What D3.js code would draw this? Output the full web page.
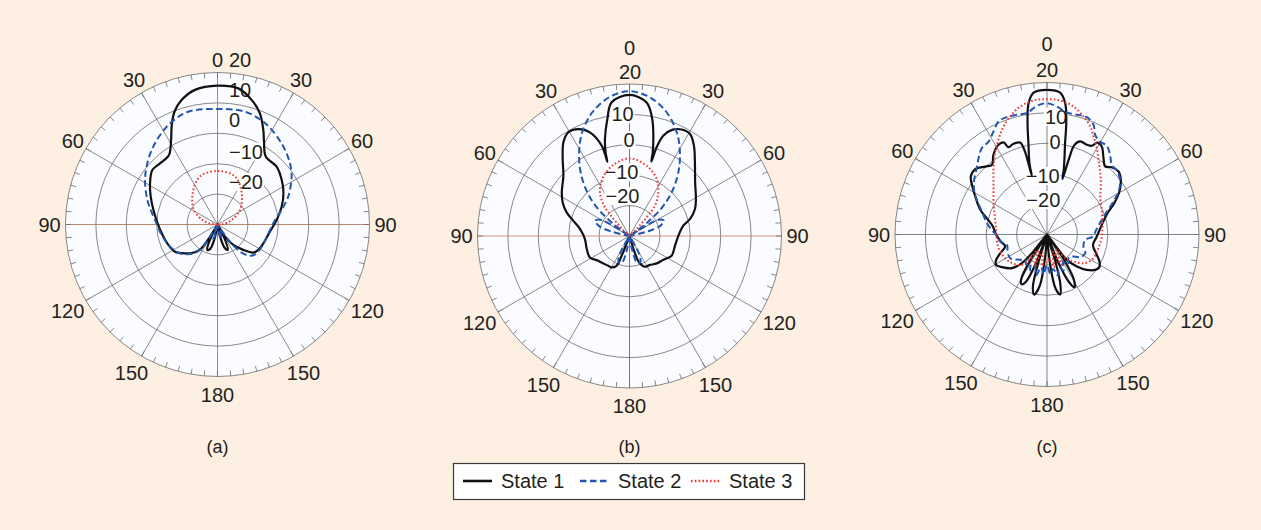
<!DOCTYPE html>
<html>
<head>
<meta charset="utf-8">
<script src="https://cdn.jsdelivr.net/npm/d3@7"></script>
<style>
  html, body { margin: 0; padding: 0; background: #fdefe2; }
  svg { display: block; }
  text { font-family: "Liberation Sans", Arial, Helvetica, sans-serif; fill: #231f20; }
</style>
</head>
<body>
<svg id="chart" width="1261" height="530"></svg>
<script>
// ---------------- Data ----------------
// Radiation patterns: [angle in degrees (clockwise from broadside, 0 = up), gain in dB]
const stateNames = ["State 1", "State 2", "State 3"];
const panelNames = ["(a)", "(b)", "(c)"];

const angleTickValues = [0, 30, 60, 90, 120, 150, 180, -150, -120, -90, -60, -30];
const angleTickLabels = ["0", "30", "60", "90", "120", "150", "180", "150", "120", "90", "60", "30"];
const radialLevels = [20, 10, 0, -10, -20];
const radialLabels = ["20", "10", "0", "\u221210", "\u221220"];

// Panel (a)
const a_state1 = [
  [-180,-40],[-173,-40],[-168,-25],[-163,-21.5],[-158,-21],[-154,-24],[-151,-40],
  [-149,-26],[-147,-22],[-145,-19.8],[-140,-18],[-131.6,-15.7],[-122.6,-13.4],[-112.6,-12.5],
  [-100.8,-11.6],[-88.9,-10.3],[-77.3,-8.4],[-67.4,-6.2],[-58.6,-4.0],[-50.1,-2.05],[-43.2,-2.4],
  [-34.9,-2.1],[-28.8,1.7],[-24.7,6.0],[-20.9,9.7],[-16.1,12.6],[-9.5,14.9],[0,15.7],
  [8.7,15.3],[15.3,12.5],[20.9,9.1],[25.9,4.5],[29.3,1.25],[35.4,-2.6],[45.6,-2.8],
  [55.3,-4.3],[64.7,-6.0],[74.5,-8.1],[85.7,-10.5],[97.8,-12.6],[112.3,-13.7],[122,-14.2],
  [128,-15],[134.6,-18.1],[142.3,-21.5],[148.3,-25.3],[150.5,-40],[153,-25],[158,-21],
  [163,-22],[168,-26],[172,-40]
];
const a_state2 = [
  [-180,-40],[-174,-40],[-169,-27],[-164,-25],[-160,-28],[-157,-40],[-151,-40],[-148,-24],
  [-145,-20],[-140,-17.5],[-134,-15.9],[-127.6,-14.4],[-115,-12.8],[-100.6,-11.3],[-85.9,-9.4],
  [-73,-6.2],[-60.4,-2.6],[-50.8,0.1],[-39.5,3.2],[-26.3,6.5],[-14.5,8.3],[0,8.0],
  [13.7,8.2],[25.2,6.8],[38.3,4.0],[49.8,1.2],[57.2,-1.0],[68.5,-5.0],[77.3,-8.4],
  [85.5,-11.0],[99.9,-13.0],[116.7,-13.7],[128.5,-14.2],[134,-15.2],[139.7,-18],[144,-23],
  [148,-40],[157,-40],[160,-28],[164,-25],[169,-27],[174,-40]
];
const a_state3 = [
  [-180,-40],[-95,-40],[-85,-28],[-74.9,-25.2],[-58.3,-20.9],[-38.5,-16.9],[-20.1,-13.2],
  [0,-12.4],[20.1,-13.2],[37.8,-17.0],[57.2,-21.2],[72.4,-25.1],[85,-28],[95,-40]
];

// Panel (b)
const b_state1 = [
  [-180,-40],[-168,-40],[-158.3,-23],[-156.6,-19.4],[-150.4,-18.1],[-144.5,-18.0],[-131,-17.1],
  [-128.4,-16.9],[-118.4,-15.2],[-106.9,-15.3],[-93.9,-15.3],[-82,-13.6],[-74.7,-10.8],
  [-69.4,-7.9],[-63.3,-5.4],[-57.2,-3.5],[-47.6,-0.55],[-41,3.5],[-35.2,7.7],[-30.5,9.6],
  [-25.6,9.0],[-20.9,6.5],[-17.1,1.1],[-16.6,-4.5],[-16,-1.5],[-14.2,2.9],[-10.7,9.2],
  [-7.6,14.4],[0,16.4],[7.3,14.3],[11,9.2],[13.8,2.9],[15.5,-1.45],[16.4,-4.5],[17,0.5],
  [18.6,4.8],[22.1,7.75],[26.1,9.0],[30.7,9.0],[35.5,6.5],[41.6,2.4],[50.7,-2.1],[60.9,-5.0],
  [67.6,-6.7],[74.3,-9.3],[79.1,-12.0],[89.6,-13.9],[102,-14.7],[115,-14.7],[125,-16.4],
  [135.2,-17.3],[145.6,-18.4],[153.5,-18.7],[159.8,-20.6],[162,-23],[168,-40]
];
const b_state2 = [
  [-180,-40],[-173,-40],[-169,-25],[-164,-20.8],[-158,-20.6],[-152,-23],[-148,-40],
  [-80,-40],[-76,-24],[-72,-19.5],[-66,-17.6],[-61,-19],[-58,-24],[-56,-40],
  [-53,-23],[-49,-16],[-44,-10],[-37.5,-3.6],[-31.1,2.1],[-24.5,7.5],[-16.7,12.5],[-8.4,16.1],
  [0,17.6],[8.4,16.1],[16.7,12.5],[24.5,7.5],[31.1,2.1],[37.5,-3.6],[44,-10],[49,-16],
  [53,-23],[56,-40],[58,-24],[61,-19],[66,-17.6],[72,-19.5],[76,-24],[80,-40],
  [148,-40],[152,-23],[158,-20.6],[164,-20.8],[169,-25],[173,-40]
];
const b_state3 = [
  [-180,-40],[-52,-40],[-46,-26.7],[-42.6,-21.7],[-40,-17],[-34,-12.6],[-25.5,-9.2],
  [-13.7,-6.2],[0,-4.45],[13.7,-6.2],[25.5,-9.2],[33.4,-12.8],[40,-17],[42.6,-21.7],
  [45.7,-26.7],[52,-40]
];

// Panel (c)
const c_state1 = [
  [-180,-40],[-178,-40],[-175,-22],[-172,-13],[-168,-9.8],[-165,-12],[-163,-20],[-161,-40],
  [-159,-20],[-156,-13],[-153,-11.6],[-150,-13],[-147,-20],[-144,-40],[-141,-22],
  [-138.7,-17.5],[-133.8,-14.0],[-125.9,-11.7],[-120.8,-10.5],[-116.5,-11.3],[-111.3,-13.7],
  [-106,-15.7],[-98.6,-14.6],[-90.4,-13.3],[-81.6,-12],[-75.5,-9.8],[-69.7,-6.6],
  [-62.1,-3.3],[-56.5,-0.4],[-52.7,1.5],[-47.7,1.9],[-42.3,0.2],[-38.4,-0.8],[-33.9,1.6],
  [-29.2,3.4],[-25.3,3.5],[-23.8,1.4],[-20.3,1.8],[-16.3,1.5],[-15,-1.2],[-14.5,-10],
  [-13.8,-5.8],[-11.5,0.65],[-9.9,7.2],[-8,13.6],[-5.4,16.9],[0,17.6],[5.3,16.9],
  [7.9,13.6],[9.8,7.2],[11.2,0.6],[12.8,-4],[14.5,-8],[15.6,-11],[16.2,-4],[17,0.75],
  [19.6,2.5],[24,2.3],[26.8,2.7],[28.8,4.5],[31.9,4.1],[36.5,1.25],[40.5,-0.56],[43.9,0.7],
  [48.6,1.35],[53.5,0.2],[59.3,-2.3],[65,-5.6],[70.6,-8.9],[80,-11.7],[92.3,-13.6],
  [102.7,-14.5],[109.4,-13.2],[117.2,-10.6],[121.9,-9.7],[126.3,-10.35],[131.6,-12.5],
  [137,-15.6],[141.9,-19.4],[144,-40],[146,-20],[149,-13],[152.4,-10.45],[155,-12.5],
  [158,-20],[161,-40],[163,-20],[165,-13],[167.6,-9.8],[171,-12],[174,-20],[177,-40]
];
const c_state2 = [
  [-180,-20],[-175,-17],[-170,-19],[-165,-16],[-160,-18.5],[-155,-17],[-150,-19],[-145,-18],
  [-140,-19],[-133.4,-17.9],[-122.7,-15.6],[-113.3,-15.9],[-104.4,-16.4],[-98.5,-14.4],
  [-90.4,-13.3],[-84.5,-11.5],[-77.9,-9.5],[-70.6,-7.3],[-64.6,-4.7],[-59.4,-2.2],
  [-53.1,-0.05],[-46.6,1.8],[-41.9,3.7],[-37,5.6],[-32.2,6.1],[-27.4,8.2],[-23.2,10.45],
  [-18.9,10.8],[-14.1,10.6],[-9.4,10.5],[-4.5,12.45],[0,13.2],[4.4,12.2],[9.2,10.7],
  [14,10.6],[18.75,10.75],[23,9.2],[25.8,6.4],[29.8,5.2],[34,5.2],[38.4,3.4],[42.9,1.3],
  [48.2,1.1],[54.1,-0.3],[59,-2.55],[63.6,-5.6],[69,-8.9],[76.4,-11.8],[84.6,-13.75],
  [92.5,-14.9],[98,-17.3],[108.2,-17.4],[116,-16.0],[124.3,-16.8],[131,-19],[137.7,-19.5],
  [145,-18],[150,-19.5],[155,-17],[160,-18.5],[165,-16],[170,-18.5],[175,-17]
];
const c_state3 = [
  [-180,-21],[-172,-20],[-165,-24],[-158,-19],[-150,-24],[-145,-20],[-140.3,-17],
  [-129.2,-15.1],[-116.8,-14],[-103.7,-13.4],[-88.5,-13.3],[-74.2,-12.3],[-59.6,-9.6],
  [-48.1,-6.4],[-41.1,-3.2],[-35.3,0.1],[-30.5,3.0],[-25.9,5.8],[-21.9,8.3],[-17.3,10.7],
  [-11.8,13.0],[-5.8,14.3],[0,14.5],[5.6,14.3],[11.7,13.0],[17.2,10.6],[21.8,8.3],
  [25.4,5.7],[30,2.8],[34.6,-0.2],[40.2,-2.9],[47.3,-5.9],[55.7,-8.8],[67.2,-10.4],
  [78.5,-11.4],[92.1,-11.95],[104.9,-12.5],[119.5,-13.05],[128.1,-14.7],[135.5,-17.55],
  [142,-20],[148,-24],[155,-19],[162,-24],[168,-19],[175,-22]
];

// ---------------- Layout & style ----------------
const W = 1261, H = 530;
const R = 152;                      // outer ring radius (20 dB)
const dbDomain = [-30, 20];

const seriesStyle = [
  { color: "#111111", width: 2.2, dash: null },
  { color: "#2456b0", width: 2.0, dash: "6.5,3.5" },
  { color: "#ec3a32", width: 2.0, dash: "1.6,2.2" }
];

const panels = [
  { name: panelNames[0], cx: 217.5, cy: 224.5, series: [a_state1, a_state2, a_state3],
    vAxis: "#8f6a5c", hAxis: "#a8694f",
    zeroLabel: [0, -164.5],
    radial: { anchor: "start", pos: [[11.5, -164.5], [11.5, -134.5], [11.5, -104.5], [11.5, -72.8], [11.5, -42.8]] } },
  { name: panelNames[1], cx: 629.5, cy: 236, series: [b_state1, b_state2, b_state3],
    vAxis: "#555555", hAxis: "#cf7c5e",
    zeroLabel: [0, -187.7],
    radial: { anchor: "middle", pos: [[0.5, -164.3], [-7, -121.7], [-0.5, -96], [-8, -63.7], [-7, -40]] } },
  { name: panelNames[2], cx: 1047, cy: 234.5, series: [c_state1, c_state2, c_state3],
    vAxis: "#666666", hAxis: "#666666",
    zeroLabel: [0, -190.5],
    radial: { anchor: "middle", pos: [[0, -164.5], [9, -117.8], [8, -92.8], [-4.3, -58.5], [-3.7, -34.5]] } }
];

// label distance from centre for each angle label (3-digit labels sit slightly further out)
const angleLabelRadius = { 30: 167, 60: 167, 90: 168, 120: 173, 150: 172, 180: 170 };

const svg = d3.select("#chart");
svg.append("rect").attr("width", W).attr("height", H).attr("fill", "#fdefe2");

const r = d3.scaleLinear().domain(dbDomain).range([0, R]).clamp(true);
const toRad = d => d * Math.PI / 180;

const radialLine = d3.lineRadial()
  .angle(d => toRad(d[0]))
  .radius(d => r(d[1]))
  .curve(d3.curveCatmullRomClosed.alpha(0.5));

panels.forEach(p => {
  const g = svg.append("g").attr("transform", `translate(${p.cx},${p.cy})`);

  // disk
  g.append("circle").attr("r", R).attr("fill", "#fbfcff");

  // rings
  g.selectAll("circle.ring").data(radialLevels).join("circle")
    .attr("class", "ring")
    .attr("r", d => r(d))
    .attr("fill", "none")
    .attr("stroke", "#6b6b6b")
    .attr("stroke-width", 0.8);

  // spokes every 30 degrees
  const spokes = d3.range(0, 360, 30);
  g.selectAll("line.spoke").data(spokes).join("line")
    .attr("class", "spoke")
    .attr("x1", 0).attr("y1", 0)
    .attr("x2", d => R * Math.sin(toRad(d)))
    .attr("y2", d => -R * Math.cos(toRad(d)))
    .attr("stroke", d => (d % 180 === 0) ? p.vAxis : (d % 90 === 0 ? p.hAxis : "#6b6b6b"))
    .attr("stroke-width", 0.8);

  // angular ticks on the rim
  const ticks = d3.range(0, 360, 5);
  g.selectAll("line.tick").data(ticks).join("line")
    .attr("class", "tick")
    .attr("x1", d => R * Math.sin(toRad(d)))
    .attr("y1", d => -R * Math.cos(toRad(d)))
    .attr("x2", d => (R - 5.5) * Math.sin(toRad(d)))
    .attr("y2", d => -(R - 5.5) * Math.cos(toRad(d)))
    .attr("stroke", "#6b6b6b")
    .attr("stroke-width", 0.8);

  // angle labels
  angleTickValues.forEach((a, i) => {
    let x, y;
    if (a === 0) { [x, y] = p.zeroLabel; }
    else {
      const rr = angleLabelRadius[Math.abs(a)];
      x = rr * Math.sin(toRad(a));
      y = -rr * Math.cos(toRad(a));
    }
    g.append("text")
      .attr("x", x).attr("y", y)
      .attr("text-anchor", "middle")
      .attr("dominant-baseline", "central")
      .attr("font-size", 20)
      .text(angleTickLabels[i]);
  });

  // radial (dB) labels on white chips, above the grid
  const labelLayer = g.append("g");
  radialLevels.forEach((v, i) => {
    const [x, y] = p.radial.pos[i];
    const t = labelLayer.append("text")
      .attr("x", x).attr("y", y)
      .attr("text-anchor", p.radial.anchor)
      .attr("dominant-baseline", "central")
      .attr("font-size", 20)
      .text(radialLabels[i]);
    if (v !== 20) {
      const bb = t.node().getBBox();
      labelLayer.insert("rect", () => t.node())
        .attr("x", bb.x - 1).attr("y", bb.y + 2)
        .attr("width", bb.width + 2).attr("height", bb.height - 4)
        .attr("fill", "#ffffff");
    }
  });

  // pattern curves
  const curveLayer = g.append("g");
  p.series.forEach((data, si) => {
    const st = seriesStyle[si];
    curveLayer.append("path")
      .datum(data)
      .attr("d", radialLine)
      .attr("fill", "none")
      .attr("stroke", st.color)
      .attr("stroke-width", st.width)
      .attr("stroke-dasharray", st.dash)
      .attr("stroke-linejoin", "round");
  });

  // panel caption
  svg.append("text")
    .attr("x", p.cx).attr("y", 447)
    .attr("text-anchor", "middle")
    .attr("dominant-baseline", "central")
    .attr("font-size", 18)
    .text(p.name);
});

// ---------------- Legend ----------------
const legend = svg.append("g");
legend.append("rect")
  .attr("x", 453.5).attr("y", 463.5).attr("width", 351).attr("height", 36)
  .attr("fill", "#ffffff").attr("stroke", "#3a3a3a").attr("stroke-width", 1.2);
const legendX = [463, 580, 691];
stateNames.forEach((name, i) => {
  const st = seriesStyle[i];
  legend.append("line")
    .attr("x1", legendX[i]).attr("x2", legendX[i] + 29)
    .attr("y1", 481).attr("y2", 481)
    .attr("stroke", st.color).attr("stroke-width", st.width + 0.4)
    .attr("stroke-dasharray", st.dash);
  legend.append("text")
    .attr("x", legendX[i] + 38).attr("y", 481)
    .attr("dominant-baseline", "central")
    .attr("font-size", 20)
    .text(name);
});
</script>
</body>
</html>
